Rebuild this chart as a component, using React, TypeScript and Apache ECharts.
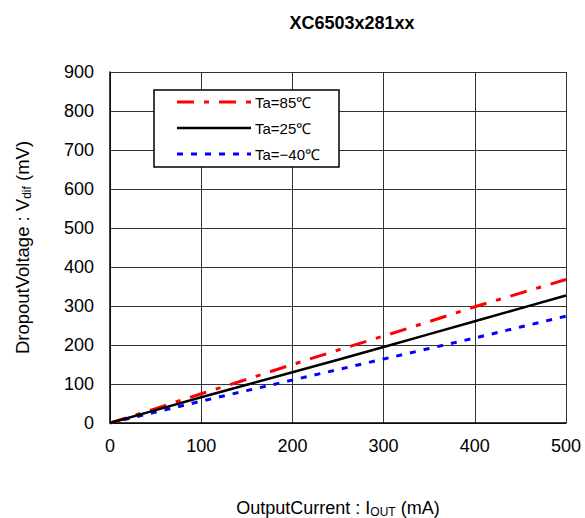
import React, { useEffect, useRef } from "react";
import * as echarts from "echarts";

const currents = [0, 50, 100, 150, 200, 250, 300, 350, 400, 450, 500];
const ta85 = [0, 37, 75, 112, 150, 187, 223, 260, 298, 333, 368];
const ta25 = [0, 33, 66, 98, 130, 162, 195, 228, 261, 294, 327];
const taM40 = [0, 28, 56, 83, 110, 137, 164, 191, 218, 246, 274];
const legendNames = ["Ta=85\u2103", "Ta=25\u2103", "Ta=\u221240\u2103"];
const titleText = "XC6503x281xx";

const FONT = "'Liberation Sans', Arial, sans-serif";

export default function App() {
  const ref = useRef<HTMLDivElement>(null);
  useEffect(() => {
    if (!ref.current) return;
    const chart = echarts.init(ref.current, undefined, { renderer: "svg" });
    const toPairs = (ys: number[]) => currents.map((x, i) => [x, ys[i]]);
    const legendY = [102, 128, 154];
    const lineStyles = [
      { stroke: "#ff0000", lineWidth: 3, lineDash: [17, 10, 5, 10] },
      { stroke: "#000000", lineWidth: 2.5, lineDash: null },
      { stroke: "#0000ff", lineWidth: 3, lineDash: [6, 8] },
    ];
    chart.setOption({
      animation: false,
      backgroundColor: "#ffffff",
      title: {
        text: titleText,
        left: 347,
        top: 9,
        textAlign: "center",
        textStyle: { fontFamily: FONT, fontSize: 18, fontWeight: "bold", color: "#000" },
      },
      grid: { left: 110, right: 19, top: 72, bottom: 95, containLabel: false, outerBoundsMode: "none" },
      xAxis: {
        type: "value",
        min: 0,
        max: 500,
        interval: 100,
        axisLine: { show: true, onZero: false, lineStyle: { color: "#000", width: 1.5 } },
        axisTick: { show: false },
        splitLine: { show: true, lineStyle: { color: "#333", width: 1 } },
        axisLabel: { fontFamily: FONT, fontSize: 18, color: "#000", margin: 14 },
        name: "{a|OutputCurrent : I}{s|OUT}{a| (mA)}",
        nameLocation: "middle",
        nameGap: 74,
        nameTextStyle: {
          rich: {
            a: { fontFamily: FONT, fontSize: 18, color: "#000" },
            s: { fontFamily: FONT, fontSize: 12, color: "#000", verticalAlign: "bottom", padding: [9, 0, 0, 0] },
          },
        },
      },
      yAxis: {
        type: "value",
        min: 0,
        max: 900,
        interval: 100,
        axisLine: { show: true, lineStyle: { color: "#000", width: 1.5 } },
        axisTick: { show: false },
        splitLine: { show: true, lineStyle: { color: "#333", width: 1 } },
        axisLabel: { fontFamily: FONT, fontSize: 18, color: "#000", margin: 16 },
        name: "{a|DropoutVoltage : V}{s|dif}{a| (mV)}",
        nameLocation: "middle",
        nameGap: 77,
        nameRotate: 90,
        nameTextStyle: {
          rich: {
            a: { fontFamily: FONT, fontSize: 18.5, color: "#000" },
            s: { fontFamily: FONT, fontSize: 12, color: "#000", verticalAlign: "bottom", padding: [9, 0, 0, 0] },
          },
        },
      },
      series: [
        {
          name: legendNames[0],
          type: "line",
          data: toPairs(ta85),
          showSymbol: false,
          lineStyle: { color: "#ff0000", width: 3, type: [17, 10, 5, 10] },
          z: 3,
        },
        {
          name: legendNames[1],
          type: "line",
          data: toPairs(ta25),
          showSymbol: false,
          lineStyle: { color: "#000000", width: 2.5, type: "solid" },
          z: 4,
        },
        {
          name: legendNames[2],
          type: "line",
          data: toPairs(taM40),
          showSymbol: false,
          lineStyle: { color: "#0000ff", width: 3, type: [6, 8] },
          z: 2,
        },
      ],
      graphic: [
        {
          type: "rect",
          shape: { x: 154, y: 90, width: 185, height: 77 },
          style: { fill: "#fff", stroke: "#000", lineWidth: 1.5 },
          z: 10,
        },
        ...legendNames.flatMap((n, i) => [
          {
            type: "line",
            shape: { x1: 177, y1: legendY[i], x2: 251, y2: legendY[i] },
            style: {
              stroke: lineStyles[i].stroke,
              lineWidth: lineStyles[i].lineWidth,
              lineDash: lineStyles[i].lineDash,
            },
            z: 11,
          },
          {
            type: "text",
            x: 255,
            y: legendY[i],
            style: {
              text: n,
              fontFamily: FONT,
              fontSize: 15,
              fill: "#000",
              verticalAlign: "middle",
              align: "left",
            },
            z: 11,
          },
        ]),
      ],
    });
    return () => chart.dispose();
  }, []);
  return (
    <div
      ref={ref}
      style={{ position: "fixed", left: 0, top: 0, width: 585, height: 518 }}
    />
  );
}
